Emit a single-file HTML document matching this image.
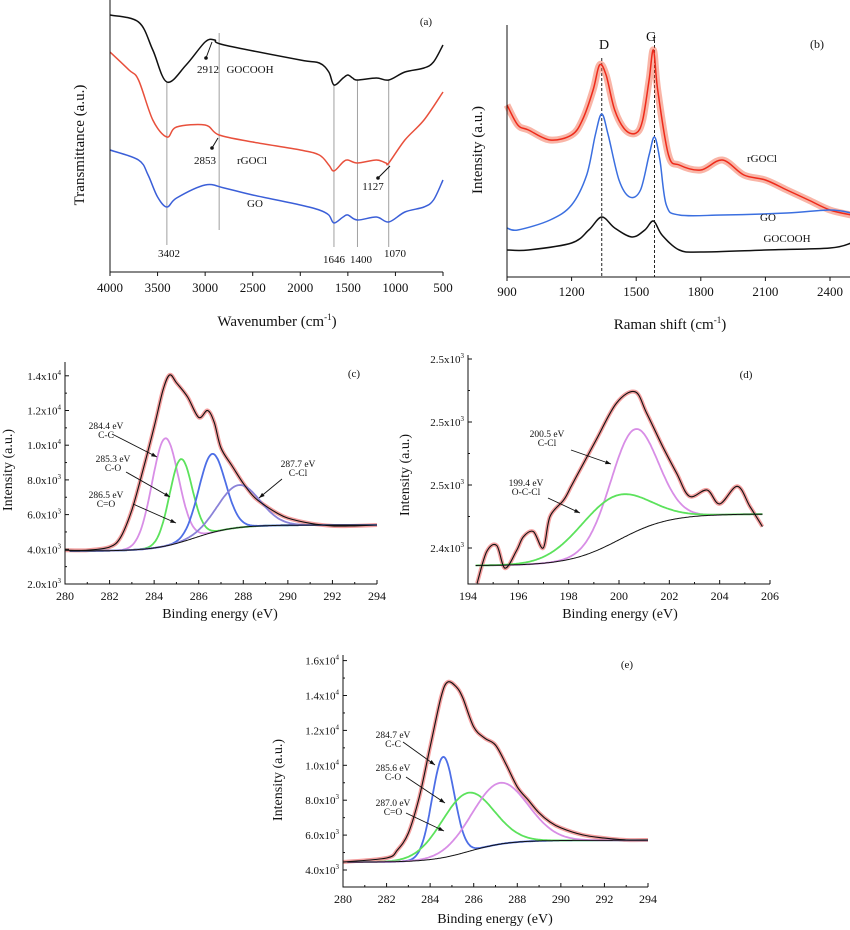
<!DOCTYPE html>
<html><head><meta charset="utf-8"><style>
html,body{margin:0;padding:0;background:#fff;}
svg{display:block;font-family:"Liberation Serif",serif;}
</style></head><body>
<svg id="fig" width="850" height="930" viewBox="0 0 850 930"></svg>
<script>
// ---------- Panel (a) FTIR data (a.u.) ----------
const ftirGOCOOHx=[4000,3700,3550,3402,3200,3000,2900,2800,2000,1800,1700,1646,1550,1500,1450,1400,1200,1070,900,700,600,500];
const ftirGOCOOHy=[257,250,222,190,207,230,232,227,212,209,200,187,194,197,194,192,194,192,200,204,210,227];
const ftirRGOClx=[4000,3800,3700,3550,3402,3300,3000,2853,2500,2000,1800,1700,1646,1550,1500,1400,1200,1100,1070,900,700,500];
const ftirRGOCly=[220,202,192,152,135,145,147,137,130,122,117,107,101,110,112,109,112,109,109,132,152,180];
const ftirGOx=[4000,3700,3600,3500,3402,3300,3000,2800,2500,2000,1800,1700,1646,1550,1500,1400,1200,1070,900,700,600,500];
const ftirGOy=[122,112,97,75,65,74,87,84,77,67,62,57,49,55,57,52,55,50,60,65,72,92];
const ftirTicks=[4000,3500,3000,2500,2000,1500,1000,500];
const ftirMarks=[3402,2853,1646,1400,1070];
// ---------- Panel (b) Raman data ----------
const ramRGOClx=[900,950,1000,1100,1200,1250,1300,1330,1360,1400,1450,1500,1530,1560,1580,1600,1650,1700,1800,1900,2000,2100,2200,2300,2400,2500];
const ramRGOCly=[172,152,147,137,142,157,187,212,202,167,147,144,157,197,227,187,122,112,107,117,102,97,87,77,67,62];
const ramGOx=[900,950,1100,1200,1270,1310,1340,1370,1420,1470,1520,1560,1585,1610,1640,1700,1900,2200,2400,2500];
const ramGOy=[49,47,57,72,102,142,163,142,97,80,87,122,140,117,72,62,62,64,67,64];
const ramGOCOOHx=[900,1000,1200,1280,1340,1400,1480,1540,1580,1620,1700,1800,2100,2400,2500];
const ramGOCOOHy=[27,27,34,47,60,49,40,47,56,42,27,25,27,29,34];
const ramTicks=[900,1200,1500,1800,2100,2400];
const ramDG=[1340,1585];
// ---------- Panel (c) XPS C1s rGOCl ----------
const cDataX=[280,281,282,282.5,283,283.5,284,284.4,284.7,285,285.5,286,286.4,286.7,287,287.5,288,288.5,289,289.5,290,291,292,293,294];
const cDataY=[3950,3950,4130,4700,6270,8570,11050,13200,14050,13600,12780,11600,12000,11300,9840,8800,7800,7000,6500,6100,5800,5500,5350,5350,5400];
const cCenters=[284.5,285.2,286.6,287.8];
const cPeaks=[10400,9200,9500,7700];
const cFwhm=[1.4,1.2,1.4,2.2];
const cBg=[3900,5400,285.8,0.9];
const cTicksY=[2000,4000,6000,8000,10000,12000,14000];
// ---------- Panel (d) XPS Cl2p ----------
const dDataX=[194.36,194.74,195.14,195.47,195.93,196.2,196.6,196.99,197.26,197.8,198.1,198.45,199.1,199.9,200.64,201.1,201.75,202.3,202.8,203.5,204.0,204.7,205.2,205.7];
const dDataY=[2372,2397,2402,2384,2398,2409,2413,2400,2425,2438,2449,2462,2486,2515,2524,2507,2480,2459,2441,2446,2435,2449,2433,2417];
const dCenters=[200.6,199.7];
const dPeaks=[2494,2440];
const dFwhm=[2.2,3.2];
const dBg=[2386,2427,200.0,1.0];
const dTicksY=[2400,2450,2500,2550];
const dTickLabels=["2.4","2.5","2.5","2.5"];
// ---------- Panel (e) XPS C1s GO ----------
const eDataX=[280,282,282.5,283,283.5,284,284.5,284.8,285.2,285.5,286,286.5,287,287.5,288,288.5,289,289.5,290,291,292,293,294];
const eDataY=[4460,4690,5150,6120,8180,11050,13900,14770,14490,13860,12200,11560,11160,10020,8760,8010,7270,6750,6410,6010,5830,5720,5720];
const eCenters=[284.6,285.7,287.2];
const ePeaks=[10480,8410,8990];
const eFwhm=[1.2,2.8,3.0];
const eBg=[4450,5700,285.8,0.9];
const eTicksY=[4000,6000,8000,10000,12000,14000,16000];
const xpsTicksX=[280,282,284,286,288,290,292,294];
const dTicksX=[194,196,198,200,202,204,206];

const NS="http://www.w3.org/2000/svg";
const svg=document.getElementById('fig');
function mk(tag,attrs,parent){const e=document.createElementNS(NS,tag);for(const k in attrs)e.setAttribute(k,attrs[k]);(parent||svg).appendChild(e);return e;}
function smooth(xs,ys,fx,fy){
  const p=xs.map((x,i)=>[fx(x),fy(ys[i])]);
  let d="M"+p[0][0].toFixed(1)+","+p[0][1].toFixed(1);
  for(let i=0;i<p.length-1;i++){
    const p0=p[i-1]||p[i],p1=p[i],p2=p[i+1],p3=p[i+2]||p2;
    const c1=[p1[0]+(p2[0]-p0[0])/6,p1[1]+(p2[1]-p0[1])/6];
    const c2=[p2[0]-(p3[0]-p1[0])/6,p2[1]-(p3[1]-p1[1])/6];
    d+=" C"+c1[0].toFixed(1)+","+c1[1].toFixed(1)+" "+c2[0].toFixed(1)+","+c2[1].toFixed(1)+" "+p2[0].toFixed(1)+","+p2[1].toFixed(1);
  }
  return d;
}
function text(x,y,s,size,anchor,parent){const t=mk('text',{x:x,y:y,'font-size':size,'text-anchor':anchor||'middle',fill:'#111'},parent);t.textContent=s;return t;}
function sciLabel(x,y,mant,exp,parent){
  const t=mk('text',{x:x,y:y,'font-size':11,'text-anchor':'end',fill:'#111'},parent);
  t.appendChild(document.createTextNode(mant+"x10"));
  const s=mk('tspan',{dy:-5,'font-size':7},t);s.textContent=exp;
  return t;
}
function bg(x,b){return b[0]+(b[1]-b[0])/(1+Math.exp(-(x-b[2])/b[3]));}
function gauss(x,c,f){const s=f/2.3548;return Math.exp(-(x-c)*(x-c)/(2*s*s));}
function linePath(fx,fy,x0,x1,fn){let d="";for(let x=x0;x<=x1+1e-9;x+=0.05){d+=(d?"L":"M")+fx(x).toFixed(1)+","+fy(fn(x)).toFixed(1);}return d;}

// ================= Panel (a) =================
const ga=mk('g',{});


const xa=v=>110+(4000-v)/3500*333, ya=v=>272-v;
const ftirTops={3402:82,2853:33,1646:85,1400:80,1070:80};
const ftirBots={3402:245,2853:230,1646:247,1400:247,1070:247};
ftirMarks.forEach(m=>{
  const l=mk('line',{x1:xa(m),x2:xa(m),y1:ftirTops[m],y2:ftirBots[m],stroke:'#888','stroke-width':0.8},ga);
  
  
});
[[ftirGOCOOHx,ftirGOCOOHy,'#111','ftir-gocooh-line'],[ftirRGOClx,ftirRGOCly,'#e8503c','ftir-rgocl-line'],[ftirGOx,ftirGOy,'#3b5fd8','ftir-go-line']].forEach(s=>{
  const p=mk('path',{d:smooth(s[0],s[1],xa,ya),fill:'none',stroke:s[2],'stroke-width':1.5},ga);
  
  
});
let ax=mk('path',{d:"M110,0 L110,272 L443,272",fill:'none',stroke:'#111','stroke-width':1},ga);


ftirTicks.forEach(t=>{
  mk('line',{x1:xa(t),x2:xa(t),y1:272,y2:276,stroke:'#111'},ga);
  const tl=text(xa(t),292,String(t),13,'middle',ga);
  
  
});
let t1=text(277,326,"Wavenumber (cm",15,'middle',ga);
let sp=mk('tspan',{dy:-6,'font-size':9},t1);sp.textContent="-1";
let sp2=mk('tspan',{dy:6},t1);sp2.textContent=")";


let t2=text(0,0,"Transmittance (a.u.)",15,'middle',ga);
t2.setAttribute('transform','translate(84,145) rotate(-90)');


[["(a)",426,25],["2912",208,73],["GOCOOH",250,73],["2853",205,164],["rGOCl",252,164],["GO",255,207],["3402",169,257],["1646",334,263],["1400",361,263],["1070",395,257],["1127",373,190]].forEach(a=>{
  const tt=text(a[1],a[2],a[0],11,'middle',ga);
  
  
});
[[212,42,206,58],[218,138,212,148],[390,166,378,178]].forEach(a=>{
  const ar=mk('line',{x1:a[0],y1:a[1],x2:a[2],y2:a[3],stroke:'#111','stroke-width':1},ga);
  
  
  mk('circle',{cx:a[2],cy:a[3],r:1.8,fill:'#111'},ga);
});

// ================= Panel (b) =================
const gb=mk('g',{});


const xb=v=>507+(v-900)/1500*323, yb=v=>277-v;
ramDG.forEach((m,i)=>{
  const l=mk('line',{x1:xb(m),x2:xb(m),y1:i?35:58,y2:277,stroke:'#222','stroke-width':1,'stroke-dasharray':'3,2'},gb);
  
  
});
let rr=mk('path',{d:smooth(ramRGOClx,ramRGOCly,xb,yb),fill:'none',stroke:'#f25a3c','stroke-width':7,'stroke-opacity':0.45},gb);


[[ramRGOClx,ramRGOCly,'#ee2a1a','raman-rgocl-line'],[ramGOx,ramGOy,'#3b6fe0','raman-go-line'],[ramGOCOOHx,ramGOCOOHy,'#111','raman-gocooh-line']].forEach(s=>{
  const p=mk('path',{d:smooth(s[0],s[1],xb,yb),fill:'none',stroke:s[2],'stroke-width':1.5},gb);
  
  
});
let bx=mk('path',{d:"M507,25 L507,277 L850,277",fill:'none',stroke:'#111','stroke-width':1},gb);


ramTicks.forEach(t=>{
  mk('line',{x1:xb(t),x2:xb(t),y1:277,y2:281,stroke:'#111'},gb);
  const tl=text(xb(t),296,String(t),13,'middle',gb);
  
  
});
let t3=text(670,329,"Raman shift (cm",15,'middle',gb);
sp=mk('tspan',{dy:-6,'font-size':9},t3);sp.textContent="-1";
sp2=mk('tspan',{dy:6},t3);sp2.textContent=")";


let t4=text(0,0,"Intensity (a.u.)",15,'middle',gb);
t4.setAttribute('transform','translate(482,150) rotate(-90)');


[["(b)",817,48,12],["D",604,49,14],["G",651,41,14],["rGOCl",762,162,11],["GO",768,221,11],["GOCOOH",787,242,11]].forEach(a=>{
  const tt=text(a[1],a[2],a[0],a[3],'middle',gb);
  
  
});

// ================= XPS panel builder =================
function xpsPanel(name,g,fx,fy,x0,yTop,yBot,xRight,ticksX,ticksY,yLabels,dataX,dataY,centers,peaks,fwhm,bgp,colors,xr){
  const envP=mk('path',{d:smooth(dataX,dataY,fx,fy),fill:'none',stroke:'#f4a0a0','stroke-width':4},g);
  
  
  centers.forEach((c,i)=>{
    const p=mk('path',{d:linePath(fx,fy,xr[0],xr[1],x=>bg(x,bgp)+(peaks[i]-bg(c,bgp))*gauss(x,c,fwhm[i])),fill:'none',stroke:colors[i],'stroke-width':1.8},g);
    
    
  });
  const bgl=mk('path',{d:linePath(fx,fy,xr[0],xr[1],x=>bg(x,bgp)),fill:'none',stroke:'#111','stroke-width':1},g);
  
  
  const dl=mk('path',{d:smooth(dataX,dataY,fx,fy),fill:'none',stroke:'#111','stroke-width':1.1},g);
  
  
  const axp=mk('path',{d:`M${x0},${yTop} L${x0},${yBot} L${xRight},${yBot}`,fill:'none',stroke:'#111','stroke-width':1},g);
  
  
  ticksX.forEach((t,i)=>{
    mk('line',{x1:fx(t),x2:fx(t),y1:yBot,y2:yBot-4,stroke:'#111'},g);
    if(i<ticksX.length-1){const m=fx(t+(ticksX[1]-ticksX[0])/2);mk('line',{x1:m,x2:m,y1:yBot,y2:yBot-2,stroke:'#111'},g);}
    const tl=text(fx(t),yBot+16,String(t),12,'middle',g);
    
    
  });
  ticksY.forEach((t,i)=>{
    mk('line',{x1:x0,x2:x0+4,y1:fy(t),y2:fy(t),stroke:'#111'},g);
    if(i<ticksY.length-1){const m=fy(t+(ticksY[1]-ticksY[0])/2);mk('line',{x1:x0,x2:x0+2,y1:m,y2:m,stroke:'#111'},g);}
    const lab=yLabels?yLabels[i]:(t>=10000?(t/10000).toFixed(1):(t/1000).toFixed(1));
    const ex=yLabels?"3":(t>=10000?"4":"3");
    const tl=sciLabel(x0-4,fy(t)+4,lab,ex,g);
    
    
  });
}
function ann(g,name,x,y,l1,l2,ax1,ay1,ax2,ay2){
  const a=text(x,y,l1,9.5,'middle',g);
  
  
  const b=text(x,y+9,l2,9.5,'middle',g);
  
  
  const ar=mk('line',{x1:ax1,y1:ay1,x2:ax2,y2:ay2,stroke:'#111','stroke-width':0.9},g);
  
  
  const ang=Math.atan2(ay2-ay1,ax2-ax1);
  const hp=`${ax2},${ay2} ${ax2-6*Math.cos(ang-0.35)},${ay2-6*Math.sin(ang-0.35)} ${ax2-6*Math.cos(ang+0.35)},${ay2-6*Math.sin(ang+0.35)}`;
  mk('polygon',{points:hp,fill:'#111'},g);
}

// ================= Panel (c) =================
const gc=mk('g',{});


const xc=v=>65+(v-280)/14*312, yc=v=>584-(v-2000)/2000*34.7;
xpsPanel('xps-c',gc,xc,yc,65,362,584,377,xpsTicksX,cTicksY,null,cDataX,cDataY,cCenters,cPeaks,cFwhm,cBg,['#d88ee6','#5ce25c','#4d6ee6','#8a82d8'],[280.2,294]);
ann(gc,'xps-c',106,429,"284.4 eV","C-C",112,434,157,457);
ann(gc,'xps-c',113,462,"285.3 eV","C-O",126,472,170,497);
ann(gc,'xps-c',106,498,"286.5 eV","C=O",133,504,176,523);
ann(gc,'xps-c',298,467,"287.7 eV","C-Cl",282,479,259,498);
let tc=text(220,618,"Binding energy (eV)",14,'middle',gc);


let tcy=text(0,0,"Intensity (a.u.)",14,'middle',gc);
tcy.setAttribute('transform','translate(12,470) rotate(-90)');


let tcl=text(354,377,"(c)",11,'middle',gc);



// ================= Panel (d) =================
const gd=mk('g',{});


const xd=v=>468+(v-194)/12*302, yd=v=>548-(v-2400)/50*63;
xpsPanel('xps-d',gd,xd,yd,468,355,584,770,dTicksX,dTicksY,dTickLabels,dDataX,dDataY,dCenters,dPeaks,dFwhm,dBg,['#d88ee6','#5ce25c'],[194.3,205.7]);
ann(gd,'xps-d',547,437,"200.5 eV","C-Cl",571,450,611,464);
ann(gd,'xps-d',526,486,"199.4 eV","O-C-Cl",548,498,580,513);
let td=text(620,618,"Binding energy (eV)",14,'middle',gd);


let tdy=text(0,0,"Intensity (a.u.)",14,'middle',gd);
tdy.setAttribute('transform','translate(409,475) rotate(-90)');


let tdl=text(746,378,"(d)",11,'middle',gd);



// ================= Panel (e) =================
const ge=mk('g',{});


const xe=v=>343+(v-280)/14*305, ye=v=>870-(v-4000)/2000*34.9;
xpsPanel('xps-e',ge,xe,ye,343,655,887,648,xpsTicksX,eTicksY,null,eDataX,eDataY,eCenters,ePeaks,eFwhm,eBg,['#4d6ee6','#5ce25c','#d88ee6'],[280.2,294]);
ann(ge,'xps-e',393,738,"284.7 eV","C-C",403,742,435,765);
ann(ge,'xps-e',393,771,"285.6 eV","C-O",406,777,445,803);
ann(ge,'xps-e',393,806,"287.0 eV","C=O",406,813,444,831);
let te=text(495,923,"Binding energy (eV)",14,'middle',ge);


let tey=text(0,0,"Intensity (a.u.)",14,'middle',ge);
tey.setAttribute('transform','translate(282,780) rotate(-90)');


let tel=text(627,668,"(e)",11,'middle',ge);


</script>
</body></html>
